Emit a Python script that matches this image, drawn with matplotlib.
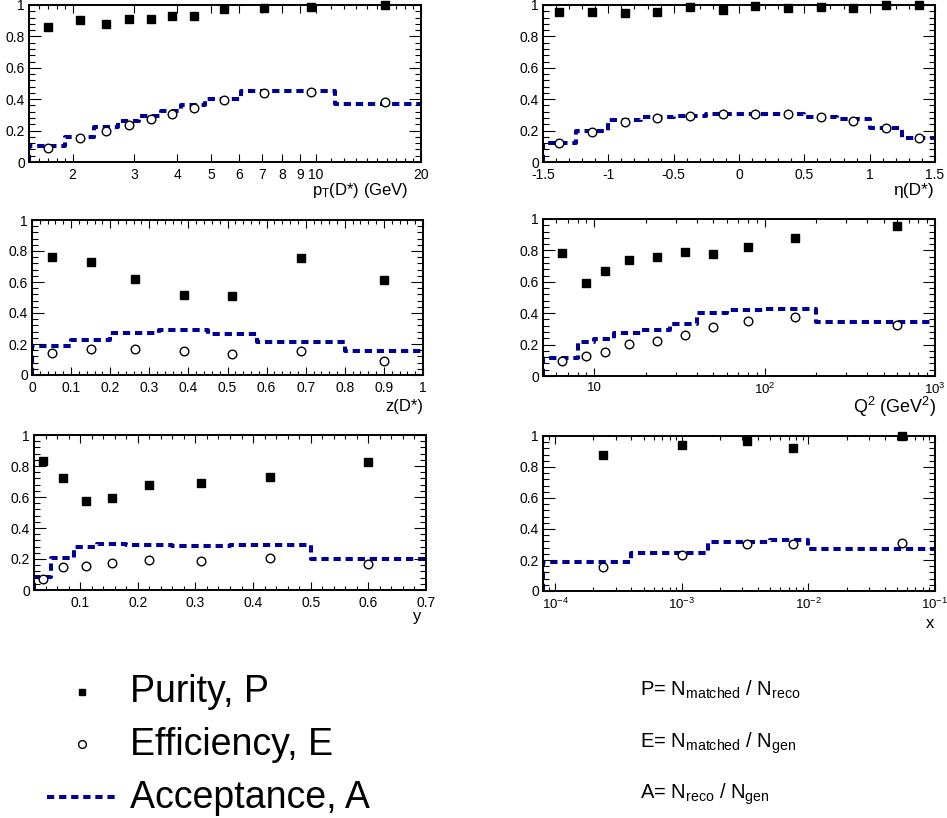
import numpy as np
import matplotlib
matplotlib.use('Agg')
import matplotlib.pyplot as plt
from matplotlib.ticker import FixedLocator, MultipleLocator, NullFormatter, FuncFormatter

plt.rcParams['font.family'] = ['Liberation Sans', 'DejaVu Sans']
plt.rcParams['mathtext.fontset'] = 'custom'
plt.rcParams['mathtext.rm'] = 'Liberation Sans'
plt.rcParams['mathtext.it'] = 'Liberation Sans:italic'
plt.rcParams['mathtext.bf'] = 'Liberation Sans:bold'
plt.rcParams['axes.unicode_minus'] = False

W, H = 947, 818
ACC_COLOR = '#000099'
ACC_STYLE = (0, (1.8, 1.2))

# pT(D*) panel
pt_edges = [1.5, 1.9, 2.3, 2.7, 3.1, 3.6, 4.1, 4.8, 6.1, 8.0, 11.3, 20]
pt_x = [1.7, 2.1, 2.5, 2.9, 3.35, 3.85, 4.45, 5.45, 7.1, 9.7, 15.8]
pt_pur = [0.863, 0.906, 0.88, 0.91, 0.91, 0.93, 0.93, 0.974, 0.979, 0.985, 1.0]
pt_eff = [0.092, 0.15, 0.2, 0.236, 0.274, 0.304, 0.343, 0.396, 0.44, 0.443, 0.385]
pt_acc = [0.103, 0.16, 0.225, 0.26, 0.295, 0.325, 0.365, 0.40, 0.455, 0.455, 0.37]

# eta(D*) panel
eta_edges = [-1.5, -1.25, -1.0, -0.75, -0.5, -0.25, 0.0, 0.25, 0.5, 0.75, 1.0, 1.25, 1.5]
eta_x = [-1.375, -1.125, -0.875, -0.625, -0.375, -0.125, 0.125, 0.375, 0.625, 0.875, 1.125, 1.375]
eta_pur = [0.957, 0.957, 0.949, 0.957, 0.985, 0.97, 0.991, 0.979, 0.985, 0.979, 1.0, 1.0]
eta_eff = [0.118, 0.188, 0.253, 0.278, 0.293, 0.304, 0.304, 0.304, 0.285, 0.263, 0.218, 0.156]
eta_acc = [0.122, 0.2, 0.268, 0.285, 0.293, 0.306, 0.306, 0.306, 0.285, 0.274, 0.218, 0.154]

# z(D*) panel
z_edges = [0.0, 0.1, 0.2, 0.325, 0.45, 0.575, 0.8, 1.0]
z_x = [0.05, 0.15, 0.2625, 0.3875, 0.5125, 0.6875, 0.9]
z_pur = [0.762, 0.729, 0.617, 0.519, 0.509, 0.753, 0.613]
z_eff = [0.145, 0.169, 0.169, 0.152, 0.134, 0.158, 0.093]
z_acc = [0.19, 0.229, 0.27, 0.288, 0.264, 0.214, 0.156]

# Q2 panel
q2_edges = [5, 8, 10, 13, 19, 28, 40, 60, 100, 200, 1000]
q2_x = [6.5, 9, 11.5, 16, 23.5, 34, 50, 80, 150, 600]
q2_pur = [0.785, 0.594, 0.668, 0.738, 0.76, 0.791, 0.777, 0.823, 0.881, 0.957]
q2_eff = [0.096, 0.128, 0.153, 0.204, 0.221, 0.262, 0.313, 0.349, 0.374, 0.328]
q2_acc = [0.117, 0.217, 0.234, 0.274, 0.291, 0.334, 0.404, 0.423, 0.425, 0.345]

# inelasticity y panel
y_edges = [0.02, 0.05, 0.09, 0.13, 0.18, 0.26, 0.36, 0.5, 0.7]
y_x = [0.035, 0.07, 0.11, 0.155, 0.22, 0.31, 0.43, 0.6]
y_pur = [0.832, 0.724, 0.577, 0.594, 0.678, 0.691, 0.726, 0.825]
y_eff = [0.071, 0.151, 0.158, 0.173, 0.194, 0.19, 0.205, 0.168]
y_acc = [0.084, 0.205, 0.276, 0.296, 0.289, 0.282, 0.289, 0.2]

# Bjorken x panel
x_edges = [8e-5, 4e-4, 1.6e-3, 5e-3, 1e-2, 1e-1]
x_x = [2.4e-4, 1e-3, 3.3e-3, 7.5e-3, 5.5e-2]
x_pur = [0.875, 0.94, 0.966, 0.925, 1.0]
x_eff = [0.155, 0.23, 0.301, 0.303, 0.31]
x_acc = [0.185, 0.247, 0.314, 0.329, 0.271]

legend_labels = ['Purity, P', 'Efficiency, E', 'Acceptance, A']
formula_labels = [r'P= N$_{\mathregular{matched}}$ / N$_{\mathregular{reco}}$',
                  r'E= N$_{\mathregular{matched}}$ / N$_{\mathregular{gen}}$',
                  r'A= N$_{\mathregular{reco}}$ / N$_{\mathregular{gen}}$']


def make_axes(fig, left, top, right, bottom):
    """Axes placed from pixel box of the reference."""
    return fig.add_axes([left / W, 1 - bottom / H, (right - left) / W, (bottom - top) / H])


def draw_panel(ax, edges, xs, pur, eff, acc):
    # histogram outline: rises from zero at the first edge, no drop at the end
    step_x = np.repeat(edges, 2)[:-1]
    step_y = np.concatenate([[0.0], np.repeat(acc, 2)])
    ax.plot(step_x, step_y, color=ACC_COLOR, lw=2.9, linestyle=ACC_STYLE, zorder=1)
    ax.plot(xs, pur, 's', color='black', ms=5.2, clip_on=False, zorder=3)
    ax.plot(xs, eff, 'o', mfc='white', mec='black', mew=1.0, ms=6.2,
            clip_on=False, zorder=3)

    ax.set_ylim(0, 1.0)
    ax.yaxis.set_major_locator(FixedLocator([0, 0.2, 0.4, 0.6, 0.8, 1.0]))
    ax.yaxis.set_minor_locator(MultipleLocator(0.04))
    ax.yaxis.set_major_formatter(FuncFormatter(lambda v, _: f'{v:g}'))

    for s in ax.spines.values():
        s.set_linewidth(1.4)
    ax.tick_params(axis='both', which='both', direction='in', top=True,
                   right=True, labelsize=10, width=0.8, colors='black')
    ax.tick_params(axis='y', which='major', length=8.5, pad=3)
    ax.tick_params(axis='y', which='minor', length=4.3)
    ax.tick_params(axis='x', which='major', length=5.5, pad=4)
    ax.tick_params(axis='x', which='minor', length=2.8)


def linear_x(ax, lo, hi, major, minor):
    ax.set_xlim(lo, hi)
    ax.xaxis.set_major_locator(MultipleLocator(major))
    ax.xaxis.set_minor_locator(MultipleLocator(minor))
    ax.xaxis.set_major_formatter(FuncFormatter(lambda v, _: f'{v:g}'))


def log_x(ax, lo, hi, decades):
    ax.set_xscale('log')
    ax.set_xlim(lo, hi)
    ax.xaxis.set_major_locator(FixedLocator([10.0 ** d for d in decades]))
    minors = [m * 10.0 ** d for d in range(decades[0] - 1, decades[-1] + 1)
              for m in range(2, 10)]
    ax.xaxis.set_minor_locator(FixedLocator(minors))
    ax.xaxis.set_minor_formatter(NullFormatter())

    def fmt(v, _):
        e = int(round(np.log10(v)))
        if e == 1:
            return '10'
        return r'$\mathregular{10^{%d}}$' % e
    ax.xaxis.set_major_formatter(FuncFormatter(fmt))
    ax.tick_params(axis='x', which='major', labelsize=9.5)


def axis_title(fig, text, right, yc, size=12):
    fig.text(right / W, 1 - yc / H, text, ha='right', va='center', fontsize=size)


def draw_legend(fig):
    lax = fig.add_axes([0, 0, 1, 1])
    lax.set_xlim(0, W)
    lax.set_ylim(H, 0)
    lax.axis('off')

    lax.plot([82], [692], 's', color='black', ms=4.8)
    lax.plot([82], [744], 'o', mfc='white', mec='black', mew=1.0, ms=5.6)
    lax.plot([47, 115], [797, 797], color=ACC_COLOR, lw=2.9, linestyle=ACC_STYLE)

    for label, base in zip(legend_labels, [702, 755, 808]):
        lax.text(130, base, label, fontsize=27, ha='left', va='baseline')
    for label, base in zip(formula_labels, [696, 748, 799]):
        lax.text(640, base, label, fontsize=14.5, ha='left', va='baseline')


def main():
    fig = plt.figure(figsize=(W / 100, H / 100), dpi=100)

    ax = make_axes(fig, 29, 5, 421, 162)
    draw_panel(ax, pt_edges, pt_x, pt_pur, pt_eff, pt_acc)
    ax.set_xscale('log')
    ax.set_xlim(1.5, 20)
    ax.xaxis.set_major_locator(FixedLocator([2, 3, 4, 5, 6, 7, 8, 9, 10, 20]))
    ax.xaxis.set_minor_locator(FixedLocator([1.6, 1.7, 1.8, 1.9] + list(range(11, 20))))
    ax.xaxis.set_major_formatter(FuncFormatter(lambda v, _: f'{v:g}'))
    ax.xaxis.set_minor_formatter(NullFormatter())
    axis_title(fig, r'p$_{\mathregular{T}}$(D*) (GeV)', 408, 191)

    ax = make_axes(fig, 543, 5, 935, 162)
    draw_panel(ax, eta_edges, eta_x, eta_pur, eta_eff, eta_acc)
    linear_x(ax, -1.5, 1.5, 0.5, 0.1)
    axis_title(fig, 'η(D*)', 934, 191, size=12.5)

    ax = make_axes(fig, 32, 220, 423, 375)
    draw_panel(ax, z_edges, z_x, z_pur, z_eff, z_acc)
    linear_x(ax, 0, 1, 0.1, 0.02)
    axis_title(fig, 'z(D*)', 423, 406)

    ax = make_axes(fig, 543, 219, 935, 376)
    draw_panel(ax, q2_edges, q2_x, q2_pur, q2_eff, q2_acc)
    log_x(ax, 5, 1000, [1, 2, 3])
    axis_title(fig, r'Q$^{\mathregular{2}}$ (GeV$^{\mathregular{2}}$)', 936, 407, size=13)

    ax = make_axes(fig, 34, 435, 426, 590)
    draw_panel(ax, y_edges, y_x, y_pur, y_eff, y_acc)
    linear_x(ax, 0.02, 0.7, 0.1, 0.02)
    axis_title(fig, 'y', 421, 617)

    ax = make_axes(fig, 543, 436, 935, 591)
    draw_panel(ax, x_edges, x_x, x_pur, x_eff, x_acc)
    log_x(ax, 8e-5, 0.1, [-4, -3, -2, -1])
    axis_title(fig, 'x', 934, 623)

    draw_legend(fig)
    fig.savefig('out.png', dpi=100)
    plt.close(fig)


if __name__ == "__main__":
    main()
